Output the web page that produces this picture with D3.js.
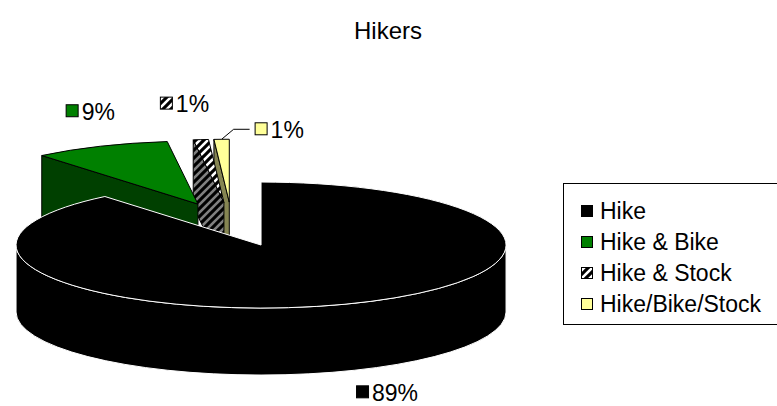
<!DOCTYPE html>
<html>
<head>
<meta charset="utf-8">
<script src="https://cdn.jsdelivr.net/npm/d3@7"></script>
<style>
  html, body { margin: 0; padding: 0; background: #fff; }
  svg { display: block; font-family: "Liberation Sans", Arial, Helvetica, sans-serif; }
</style>
</head>
<body>
<svg id="chart" width="777" height="406"></svg>
<script>
// Chart data
const title = "Hikers";
const categories = ["Hike", "Hike & Bike", "Hike & Stock", "Hike/Bike/Stock"];
const shares = [89, 9, 1, 1];
const pctLabels = ["89%", "9%", "1%", "1%"];

// Styling per category
const topFills  = ["#000000", "#008000", "url(#hatchTop)", "#FFFF99"];
const sideFills = ["#000000", "#004000", "url(#hatchSide)", "#858552"];
const edgeColors = ["#ffffff", "#000000", "#000000", "#000000"];
const swatchFills = ["#000000", "#008000", "url(#hatchTop)", "#FFFF99"];

// 3D pie layout: ellipse radii, wall depth, explosion fraction
const pieGeom = { cx: 232, cy: 224.3, rx: 245, ry: 63, depth: 67, explode: 0.35 };
// label placement relative to each slice's outer rim point
const labelNudge = [[12, 21], [-35, -35], [-41, -36], [33, -10]];
const leaderSlices = [3];

const W = 777, H = 406;
const svg = d3.select("#chart");
const defs = svg.append("defs");

function hatch(id, bg, size) {
  const p = defs.append("pattern").attr("id", id)
    .attr("patternUnits", "userSpaceOnUse")
    .attr("width", size).attr("height", size);
  p.append("rect").attr("width", size).attr("height", size).attr("fill", bg);
  p.append("path")
    .attr("d", `M${-size/4},${size/4} L${size/4},${-size/4} M0,${size} L${size},0 M${size*3/4},${size*5/4} L${size*5/4},${size*3/4}`)
    .attr("stroke", "#000").attr("stroke-width", size * 0.38);
}
hatch("hatchTop", "#ffffff", 8);
hatch("hatchSide", "#808080", 8);

// Title
svg.append("text").attr("x", 388).attr("y", 39)
  .attr("text-anchor", "middle").attr("font-size", 24).attr("fill", "#000")
  .text(title);

// Slice angles from d3.pie (clockwise from 12 o'clock)
const arcs = d3.pie().sort(null).value(d => d)(shares);

const slices = arcs.map((a, i) => {
  const mid = (a.startAngle + a.endAngle) / 2;
  const g = pieGeom;
  return {
    i, a0: a.startAngle, a1: a.endAngle, mid,
    sx: g.cx + g.explode * g.rx * Math.sin(mid),
    sy: g.cy - g.explode * g.ry * Math.cos(mid)
  };
});

function P(s, t, z) {
  return [s.sx + pieGeom.rx * Math.sin(t), s.sy - pieGeom.ry * Math.cos(t) + z];
}

const pieLayer = svg.append("g");
const d = pieGeom.depth, rx = pieGeom.rx, ry = pieGeom.ry;

// Paint from back to front
slices.slice().sort((p, q) => p.sy - q.sy).forEach(s => {
  const g = pieLayer.append("g");
  const stroke = edgeColors[s.i];
  // radial side faces
  const faces = [];
  if (Math.sin(s.a0) < -1e-6) faces.push(s.a0);
  if (Math.sin(s.a1) > 1e-6) faces.push(s.a1);
  faces.forEach(t => {
    const o0 = P(s, t, 0), o1 = P(s, t, d);
    g.append("path")
      .attr("d", `M${s.sx},${s.sy} L${o0} L${o1} L${s.sx},${s.sy + d} Z`)
      .attr("fill", sideFills[s.i]).attr("stroke", stroke).attr("stroke-width", 1)
      .attr("stroke-linejoin", "round");
  });
  // outer wall on the front half
  const t0 = Math.max(s.a0, Math.PI / 2), t1 = Math.min(s.a1, Math.PI * 1.5);
  if (t0 < t1) {
    const a = P(s, t0, 0), b = P(s, t1, 0), c = P(s, t1, d), e = P(s, t0, d);
    g.append("path")
      .attr("d", `M${a} A${rx},${ry} 0 0 1 ${b} L${c} A${rx},${ry} 0 0 0 ${e} Z`)
      .attr("fill", sideFills[s.i]).attr("stroke", stroke).attr("stroke-width", 1);
  }
  // top face
  const p0 = P(s, s.a0, 0), p1 = P(s, s.a1, 0);
  const large = (s.a1 - s.a0) > Math.PI ? 1 : 0;
  g.append("path")
    .attr("d", `M${s.sx},${s.sy} L${p0} A${rx},${ry} 0 ${large} 1 ${p1} Z`)
    .attr("fill", topFills[s.i]).attr("stroke", stroke).attr("stroke-width", 1)
    .attr("stroke-linejoin", "round");
});

// Data labels
const labelLayer = svg.append("g");
slices.forEach(s => {
  const front = Math.cos(s.mid) < 0;
  const rim = P(s, s.mid, front ? d : 0);
  const lx = rim[0] + labelNudge[s.i][0];
  const ly = rim[1] + labelNudge[s.i][1];
  if (leaderSlices.includes(s.i)) {
    labelLayer.append("polyline")
      .attr("points", `${rim[0]},${rim[1]} ${lx - 21},${ly} ${lx - 5},${ly}`)
      .attr("fill", "none").attr("stroke", "#000").attr("stroke-width", 1);
  }
  labelLayer.append("rect")
    .attr("x", lx + 0.5).attr("y", ly - 6.5).attr("width", 12).attr("height", 12)
    .attr("fill", swatchFills[s.i]).attr("stroke", "#000").attr("stroke-width", 1);
  labelLayer.append("text")
    .attr("x", lx + 16).attr("y", ly + 8.3)
    .attr("font-size", 23).attr("fill", "#000")
    .text(pctLabels[s.i]);
});

// Legend
const legend = svg.append("g");
legend.append("rect").attr("x", 563.5).attr("y", 183.5).attr("width", 240).attr("height", 141)
  .attr("fill", "#fff").attr("stroke", "#000").attr("stroke-width", 1);
const rowY = d3.scalePoint().domain(categories).range([211, 304]);
categories.forEach((c, i) => {
  const y = rowY(c);
  legend.append("rect").attr("x", 581.5).attr("y", y - 5.5).attr("width", 11).attr("height", 11)
    .attr("fill", swatchFills[i]).attr("stroke", "#000").attr("stroke-width", 1);
  legend.append("text").attr("x", 600).attr("y", y + 8.3)
    .attr("font-size", 23).attr("fill", "#000").text(c);
});
</script>
</body>
</html>
